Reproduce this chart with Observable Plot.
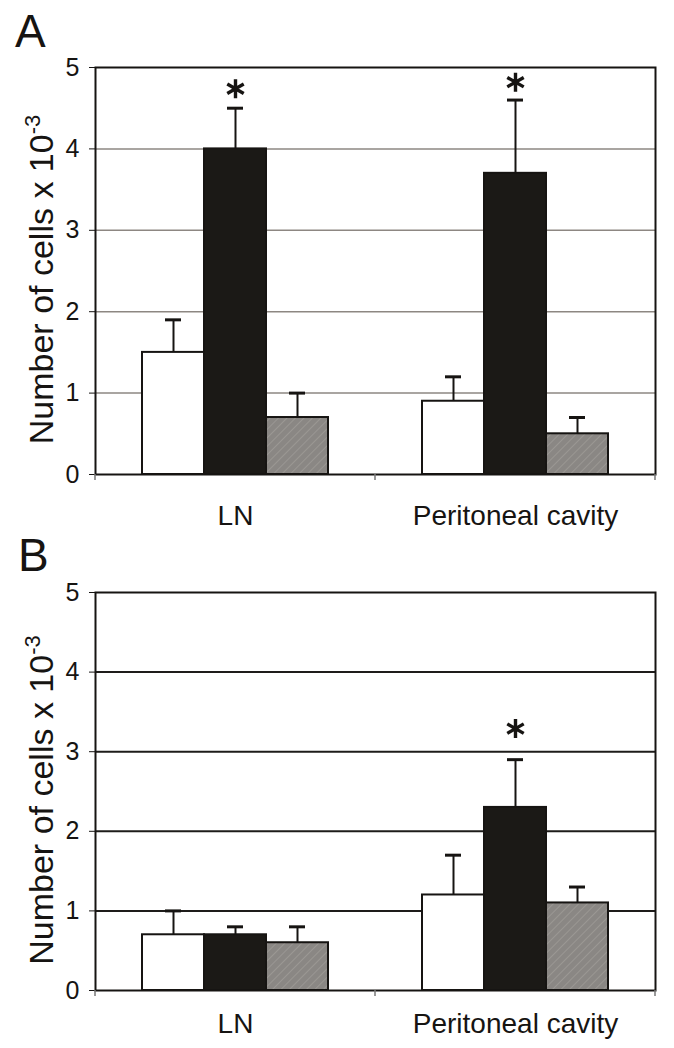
<!DOCTYPE html>
<html>
<head>
<meta charset="utf-8">
<script src="https://cdn.jsdelivr.net/npm/d3@7"></script>
<script src="https://cdn.jsdelivr.net/npm/@observablehq/plot@0.6"></script>
<style>
  body { margin: 0; background: #fff; }
  #root { position: relative; width: 674px; height: 1048px; overflow: hidden; }
  #root svg { display: block; }
</style>
</head>
<body>
<svg width="0" height="0" style="position:absolute">
  <defs>
    <pattern id="hatch" patternUnits="userSpaceOnUse" width="6" height="6" patternTransform="rotate(45)">
      <rect width="6" height="6" fill="#8a8784"></rect>
      <line x1="0" y1="0" x2="0" y2="6" stroke="#9a9793" stroke-width="2"></line>
    </pattern>
  </defs>
</svg>
<div id="root"></div>
<script>
// ---- data ----
const sites = ["LN", "Peritoneal cavity"];
const seriesNames = ["open", "filled", "hatched"];
const yTicks = [0, 1, 2, 3, 4, 5];
const gridTicks = [1, 2, 3, 4];

// Panel A (means, SEM)
const aOpen = [1.5, 0.9];
const aFilled = [4.0, 3.7];
const aHatched = [0.7, 0.5];
const aOpenErr = [0.4, 0.3];
const aFilledErr = [0.5, 0.9];
const aHatchedErr = [0.3, 0.2];
const aStarSites = ["LN", "Peritoneal cavity"];
const aStarY = [4.74, 4.82];

// Panel B
const bOpen = [0.7, 1.2];
const bFilled = [0.7, 2.3];
const bHatched = [0.6, 1.1];
const bOpenErr = [0.3, 0.5];
const bFilledErr = [0.1, 0.6];
const bHatchedErr = [0.2, 0.2];
const bStarSites = ["Peritoneal cavity"];
const bStarY = [3.29];

// ---- layout ----
const W = 674, ML = 95, MR = 19;
const step = (W - ML - MR) / sites.length;
const barW = 62, capW = 16;
const outer = (step - seriesNames.length * barW) / 2;
const fills = ["#ffffff", "#1b1916", "url(#hatch)"];
const ink = "#161412";
const FONT = "Liberation Sans, Arial, Helvetica, sans-serif";

function makeRows(vals, errs) {
  return sites.flatMap((s, i) => seriesNames.map((g, k) => ({site: s, series: g, k, mean: vals[k][i], err: errs[k][i]})));
}

function panel(cfg) {
  const rows = makeRows(cfg.vals, cfg.errs);
  const stars = cfg.starSites.map((s, i) => ({site: s, y: cfg.starY[i]}));
  const marks = [Plot.ruleY(gridTicks, {stroke: cfg.gridColor, strokeWidth: cfg.gridWidth})];
  seriesNames.forEach((g, k) => {
    const d = rows.filter(r => r.k === k);
    const inL = outer + k * barW;
    marks.push(Plot.barY(d, {x: "site", y: "mean", fill: fills[k], stroke: ink, strokeWidth: 2,
      insetLeft: inL, insetRight: step - inL - barW}));
  });
  seriesNames.forEach((g, k) => {
    const d = rows.filter(r => r.k === k);
    const inL = outer + k * barW;
    marks.push(Plot.ruleX(d, {x: "site", y1: "mean", y2: r => r.mean + r.err,
      dx: inL + barW / 2 - step / 2, stroke: ink, strokeWidth: 2}));
    marks.push(Plot.tickY(d, {x: "site", y: r => r.mean + r.err, stroke: ink, strokeWidth: 3,
      insetLeft: inL + (barW - capW) / 2, insetRight: step - inL - (barW + capW) / 2}));
  });
  marks.push(Plot.dot(stars, {x: "site", y: "y", symbol: "asterisk", r: 9, stroke: ink, strokeWidth: 3.4,
    dx: outer + 1.5 * barW - step / 2}));
  marks.push(Plot.frame({stroke: ink, strokeWidth: 2}));
  marks.push(Plot.axisY({ticks: yTicks, tickSize: 6, tickPadding: 10, fontSize: 25, label: null, tickFormat: d3.format("d")}));
  marks.push(Plot.axisX({tickSize: 0, tickPadding: cfg.labelPad, fontSize: 28, label: null}));

  const svg = Plot.plot({
    width: W, height: cfg.height,
    marginLeft: ML, marginRight: MR, marginTop: cfg.marginTop, marginBottom: cfg.marginBottom,
    style: {fontFamily: FONT, color: ink, background: "white", overflow: "visible"},
    x: {domain: sites, padding: 0},
    y: {domain: [0, 5]},
    marks
  });

  const s = d3.select(svg);
  // category divider ticks at band edges
  const xs = svg.scale("x");
  const edges = sites.map(v => xs.apply(v)).concat([xs.apply(sites[sites.length - 1]) + xs.bandwidth]);
  const yb = cfg.height - cfg.marginBottom;
  s.append("g").selectAll("line").data(edges).join("line")
    .attr("x1", d => d).attr("x2", d => d).attr("y1", yb).attr("y2", yb + 6)
    .attr("stroke", "#777").attr("stroke-width", 1.5);
  // y label with superscript
  const yMid = (cfg.marginTop + yb) / 2 + 9;
  const t = s.append("text")
    .attr("transform", `translate(53,${yMid}) rotate(-90)`)
    .attr("text-anchor", "middle")
    .attr("font-family", FONT).attr("font-size", 34).attr("fill", ink);
  t.append("tspan").text("Number of cells x 10");
  t.append("tspan").attr("dy", -13).attr("font-size", 22).text("-3");
  // panel letter
  s.append("text").attr("x", cfg.letterX).attr("y", cfg.letterY)
    .attr("text-anchor", "start")
    .attr("font-family", FONT).attr("font-size", 46).attr("fill", ink).text(cfg.letter);
  return svg;
}

const root = document.getElementById("root");
root.append(panel({
  vals: [aOpen, aFilled, aHatched], errs: [aOpenErr, aFilledErr, aHatchedErr],
  starSites: aStarSites, starY: aStarY,
  gridColor: "#8d8782", gridWidth: 1.5,
  height: 540, marginTop: 67, marginBottom: 66, labelPad: 31,
  letter: "A", letterX: 15, letterY: 47
}));
root.append(panel({
  vals: [bOpen, bFilled, bHatched], errs: [bOpenErr, bFilledErr, bHatchedErr],
  starSites: bStarSites, starY: bStarY,
  gridColor: "#1e1c1a", gridWidth: 2,
  height: 508, marginTop: 52, marginBottom: 58, labelPad: 23,
  letter: "B", letterX: 18, letterY: 31
}));
</script>
</body>
</html>
